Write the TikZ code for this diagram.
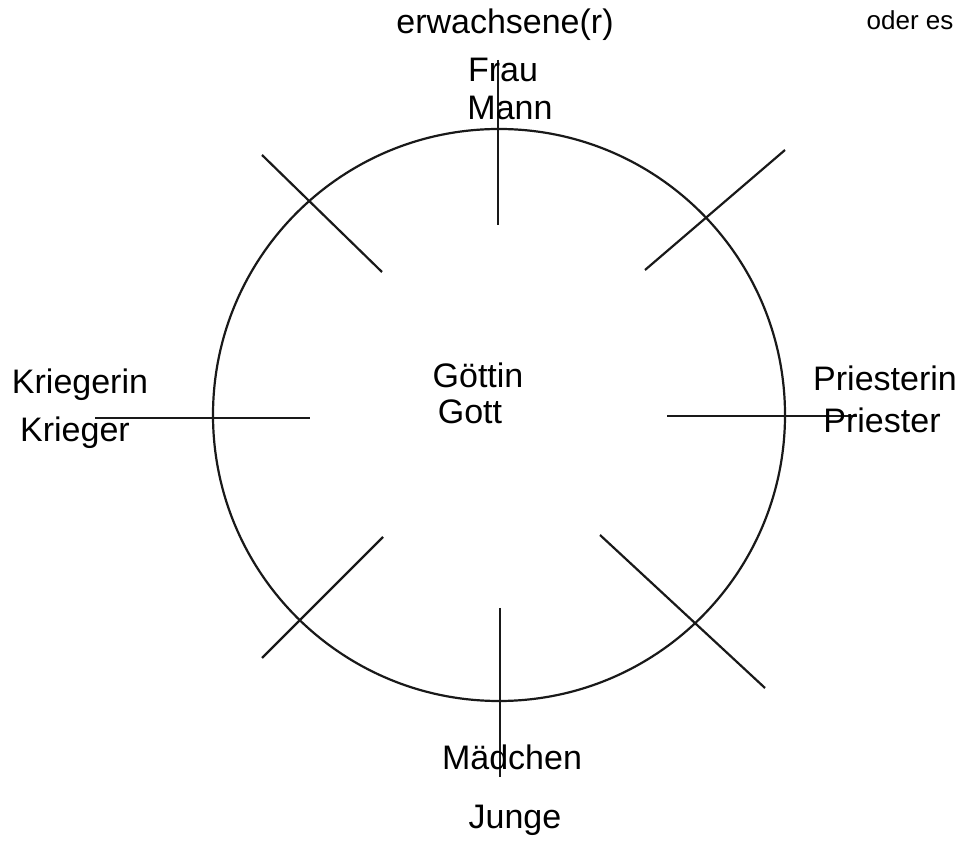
\documentclass[tikz,border=0pt]{standalone}
\usepackage{fontspec}
\setmainfont{Liberation Sans}
\usepackage{xcolor}

\tikzset{
  hand/.style={font=\fontsize{34}{36}\selectfont, inner sep=0pt},
  spoke/.style={line width=2.2pt, black!90},
}

\begin{document}
\begin{tikzpicture}[x=1pt,y=1pt]
\useasboundingbox (0,0) rectangle (963,862);

% wheel
\draw[spoke] (499,447) circle (286);

% spokes
\draw[spoke] (498,802) -- (498,637);
\draw[spoke] (95,444) -- (310,444);
\draw[spoke] (667,446) -- (857,446);
\draw[spoke] (500,254) -- (500,85);
\draw[spoke] (262,707) -- (382,590);
\draw[spoke] (785,712) -- (645,592);
\draw[spoke] (383,325) -- (262,204);
\draw[spoke] (600,327) -- (765,174);

% labels
\node[hand] (erw) at (505,837) {erwachsene(r)};
\node[hand] (frau) at (503,792) {Frau};
\node[hand] (mann) at (510,754) {Mann};
\node[hand,font=\fontsize{26}{28}\selectfont] (oder) at (910,842) {oder es};
\node[hand] (goettin) at (478,487) {Göttin};
\node[hand] (gott) at (470,450) {Gott};
\node[hand] (kriegerin) at (80,477) {Kriegerin};
\node[hand] (krieger) at (75,429) {Krieger};
\node[hand] (priesterin) at (885,484) {Priesterin};
\node[hand] (priester) at (882,442) {Priester};
\node[hand] (maedchen) at (512,105) {Mädchen};
\node[hand] (junge) at (515,42) {Junge};
\end{tikzpicture}
\end{document}
